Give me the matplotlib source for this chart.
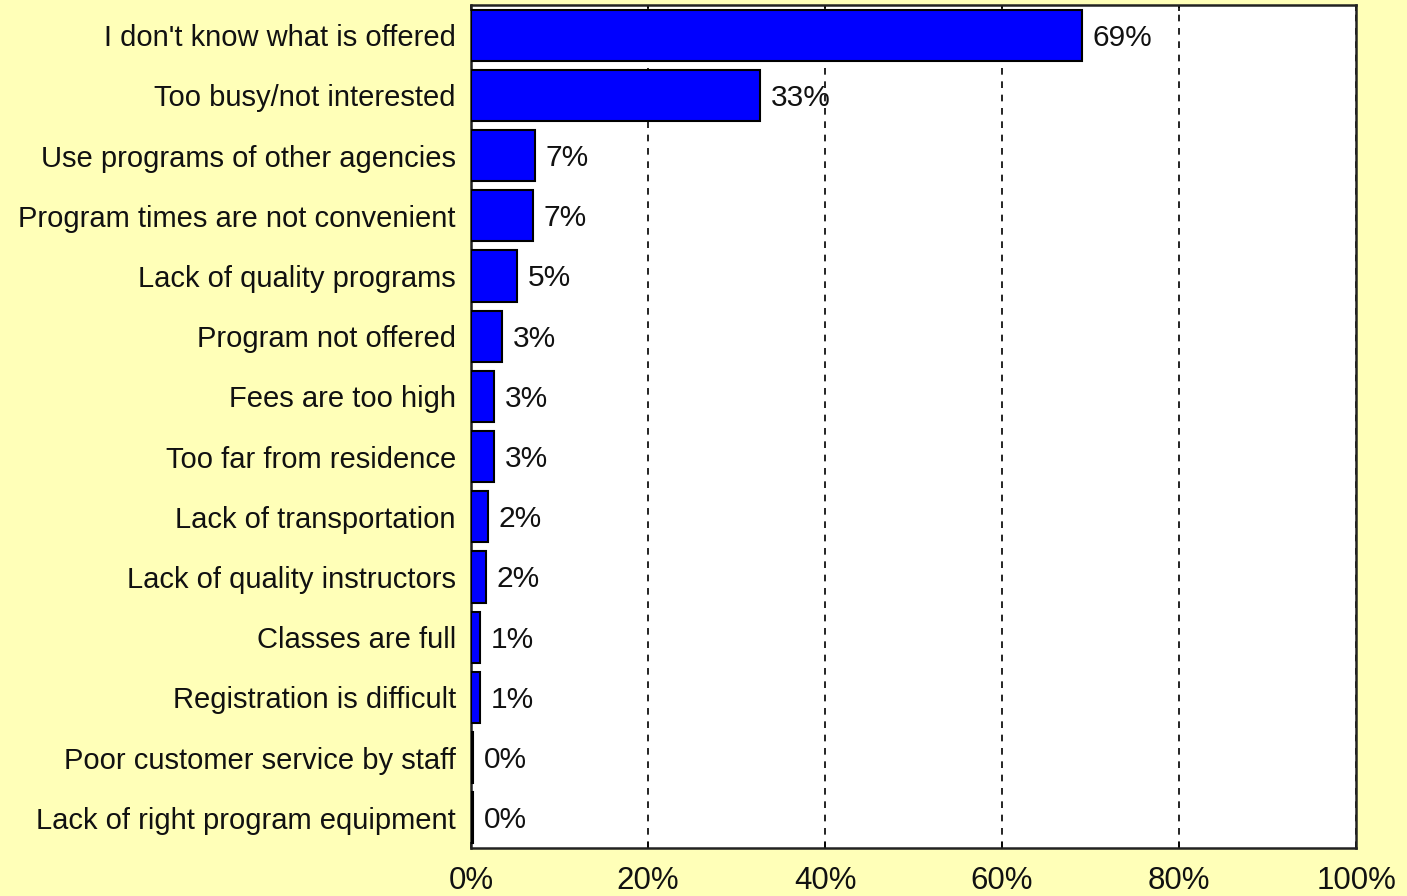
import numpy as np
import matplotlib.pyplot as plt

plt.rcParams['font.family'] = ['Liberation Sans', 'DejaVu Sans']

reasons = ["I don't know what is offered", "Too busy/not interested",
           "Use programs of other agencies", "Program times are not convenient",
           "Lack of quality programs", "Program not offered", "Fees are too high",
           "Too far from residence", "Lack of transportation",
           "Lack of quality instructors", "Classes are full",
           "Registration is difficult", "Poor customer service by staff",
           "Lack of right program equipment"]
values = [69.0, 32.7, 7.2, 7.0, 5.2, 3.5, 2.6, 2.6, 1.9, 1.7, 1.0, 1.0, 0.2, 0.2]
labels = ["69%", "33%", "7%", "7%", "5%", "3%", "3%", "3%", "2%", "2%", "1%", "1%", "0%", "0%"]
xticks = [0, 20, 40, 60, 80, 100]

bg = '#FFFFB8'
fig = plt.figure(figsize=(14.07, 8.96), dpi=100, facecolor=bg)
ax = fig.add_axes([0.3348, 0.0536, 0.629, 0.9408])

y = np.arange(len(reasons))
ax.barh(y, values, height=0.85, color='#0000FF', edgecolor='black', linewidth=1.5, zorder=3)
for yi, v, lab in zip(y, values, labels):
    ax.text(v + 1.2, yi + 0.04, lab, va='center', ha='left', fontsize=21.5, color='#111111', zorder=4)

ax.set_xlim(0, 100)
ax.set_ylim(len(reasons) - 0.5, -0.5)
ax.set_yticks(y)
ax.set_yticklabels(reasons, fontsize=21, color='#111111')
ax.set_xticks(xticks)
ax.set_xticklabels([f"{t}%" for t in xticks], fontsize=22.5, color='#111111')
ax.tick_params(axis='y', length=0, pad=11)
ax.tick_params(axis='x', length=4, direction='in', top=True, pad=13, width=1.2)
ax.grid(axis='x', color='black', linestyle=(0, (4, 4)), linewidth=1.2, zorder=1)
for s in ax.spines.values():
    s.set_linewidth(1.8)
    s.set_color('#222222')

fig.savefig('out.png', dpi=100, facecolor=bg)
